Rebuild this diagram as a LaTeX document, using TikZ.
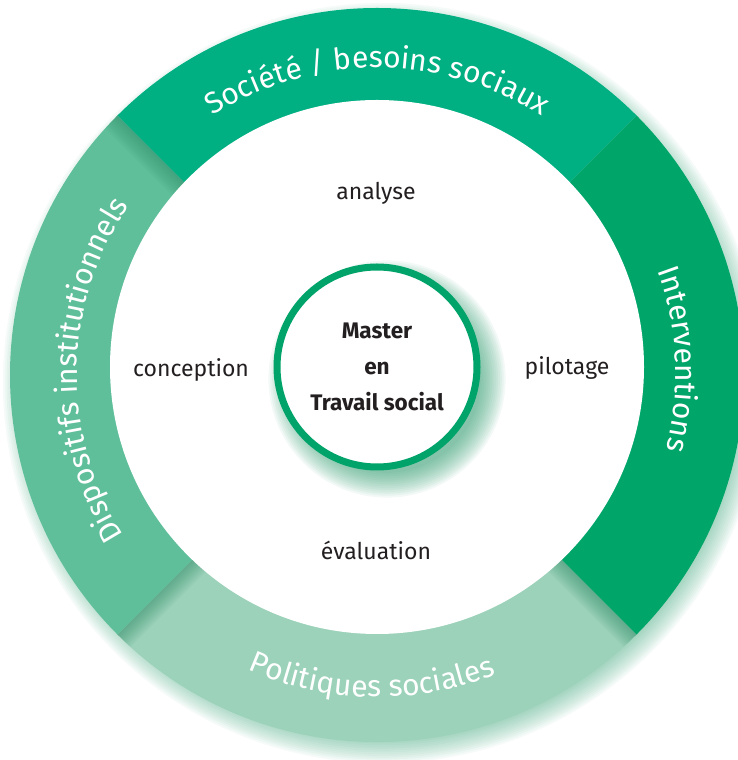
\documentclass[tikz,border=0pt]{standalone}
\usepackage{fontspec}
\setmainfont{Fira Sans}
\newfontfamily\ringfont{Fira Sans}
\usetikzlibrary{decorations.text}
\definecolor{cTop}{RGB}{0,175,130}
\definecolor{cRight}{RGB}{0,165,106}
\definecolor{cLeft}{RGB}{96,191,155}
\definecolor{cBottom}{RGB}{155,210,185}
\definecolor{cRing}{RGB}{0,164,106}
\definecolor{cText}{RGB}{35,31,32}
\definecolor{cShadow}{RGB}{50,160,115}
\definecolor{cEdge}{RGB}{30,130,90}
\newcommand\ringtextfmt{\ringfont\fontsize{30}{31}\selectfont}
\tikzset{
  ringlabel/.style={decorate, decoration={text along path, text align=center, text color=white, text={|\ringtextfmt|#1}}},
  innerlabel/.style={anchor=base, text=cText, font=\fontsize{23}{27}\selectfont},
  centercircle/.style={circle, draw=cRing, line width=7pt, fill=white, minimum size=200pt, inner sep=0pt,
    align=center, text=cText, font=\bfseries\fontsize{22.5}{36}\selectfont},
}
\begin{document}
\begin{tikzpicture}[x=1pt,y=1pt]
\useasboundingbox (0,0) rectangle (737,760);
\coordinate (O) at (377,385);
\coordinate (I) at (377,393);
% outer drop shadow
\foreach \i in {1,...,14}{
  \fill[cShadow, opacity=0.045] ([shift={(6,-8)}]O) circle[radius={355+\i*1.8}];
}
% bottom sector
\fill[cBottom] (O) -- ([shift={(225:367)}]O) arc[start angle=225, end angle=315, radius=367] -- cycle;
\begin{scope}
  \clip (O) -- ([shift={(225:367)}]O) arc[start angle=225, end angle=315, radius=367] -- cycle;
  \foreach \w in {3,6,...,36}{
    \draw[cEdge, opacity=0.045, line width=\w pt] (O) -- ([shift={(225:400)}]O);
    \draw[cEdge, opacity=0.045, line width=\w pt] (O) -- ([shift={(315:400)}]O);
  }
\end{scope}
% left sector
\fill[cLeft] (O) -- ([shift={(135:367)}]O) arc[start angle=135, end angle=225, radius=367] -- cycle;
\begin{scope}
  \clip (O) -- ([shift={(135:367)}]O) arc[start angle=135, end angle=225, radius=367] -- cycle;
  \foreach \w in {3,6,...,36}{
    \draw[cEdge, opacity=0.04, line width=\w pt] (O) -- ([shift={(135:400)}]O);
  }
\end{scope}
% right sector
\fill[cRight] (O) -- ([shift={(-45:367)}]O) arc[start angle=-45, end angle=45, radius=367] -- cycle;
% top sector
\fill[cTop] (O) -- ([shift={(45:367)}]O) arc[start angle=45, end angle=135, radius=367] -- cycle;
% inner white disc
\fill[white] (I) circle[radius=267];
% ring labels
\path[ringlabel={Société / besoins sociaux}] ([shift={(150:307)}]O) arc[start angle=150, end angle=30, radius=307];
\path[ringlabel={Interventions}] ([shift={(60:299)}]O) arc[start angle=60, end angle=-54, radius=299];
\path[ringlabel={Dispositifs institutionnels}] ([shift={(240:300)}]O) arc[start angle=240, end angle=118, radius=300];
\path[ringlabel={Politiques sociales}] ([shift={(208:322)}]O) arc[start angle=208, end angle=330, radius=322];
% centre shadow
\foreach \i in {1,...,14}{
  \fill[cShadow, opacity=0.06] ([shift={(10,-12)}]I) circle[radius={92+\i*1.9}];
}
% centre
\node[centercircle] (master) at (I) {Master\\en\\Travail social};
% inner labels
\node[innerlabel] (analyse) at (376,560) {analyse};
\node[innerlabel] (conception) at (191,383) {conception};
\node[innerlabel] (pilotage) at (567,385) {pilotage};
\node[innerlabel] (evaluation) at (376,200) {évaluation};
\end{tikzpicture}
\end{document}
